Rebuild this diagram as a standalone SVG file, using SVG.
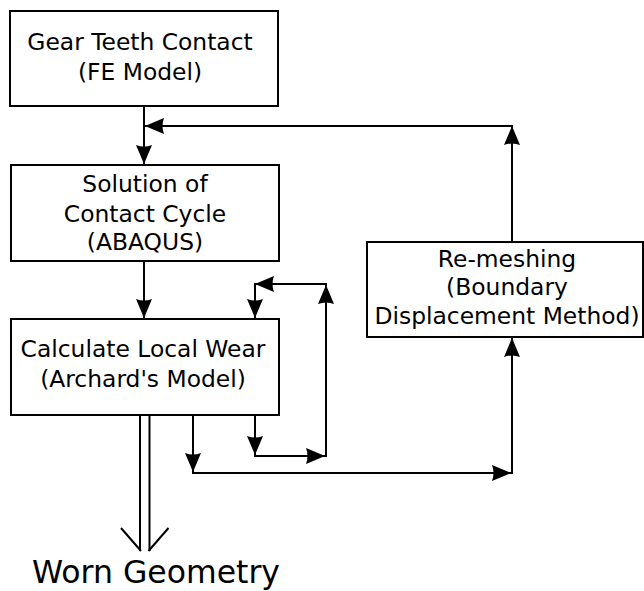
<svg xmlns="http://www.w3.org/2000/svg" width="644" height="591" viewBox="0 0 644 591">
  <style>
    .box { fill: #ffffff; stroke: #000000; stroke-width: 2; }
    .label { font-family: "DejaVu Sans", "Liberation Sans", sans-serif; font-size: 23.4px; fill: #000000; text-anchor: middle; }
    .big { font-size: 31.5px; }
    .wire { fill: none; stroke: #000000; stroke-width: 2; }
    .arrow { marker-end: url(#head); }
  </style>
  <defs>
    <marker id="head" markerUnits="userSpaceOnUse" viewBox="-20 -9 21 18" refX="0" refY="0" markerWidth="21" markerHeight="18" orient="auto">
      <path d="M0,0 L-19,-8 Q-16,0 -19,8 Z" fill="#000000"/>
    </marker>
  </defs>

  <rect width="644" height="591" fill="#ffffff"/>

  <!-- process steps -->
  <g id="fe-model">
    <rect class="box" x="10" y="11" width="268" height="95"/>
    <text class="label" x="140" y="49.5">Gear Teeth Contact</text>
    <text class="label" x="140" y="79.5">(FE Model)</text>
  </g>

  <g id="contact-cycle">
    <rect class="box" x="11" y="165" width="268" height="96"/>
    <text class="label" x="145" y="192">Solution of</text>
    <text class="label" x="145" y="221.5">Contact Cycle</text>
    <text class="label" x="145" y="250">(ABAQUS)</text>
  </g>

  <g id="local-wear">
    <rect class="box" x="11" y="319" width="268" height="96"/>
    <text class="label" x="143" y="357">Calculate Local Wear</text>
    <text class="label" x="143" y="387">(Archard's Model)</text>
  </g>

  <g id="re-meshing">
    <rect class="box" x="367" y="242" width="276" height="95"/>
    <text class="label" x="507" y="266.5">Re-meshing</text>
    <text class="label" x="507" y="295">(Boundary</text>
    <text class="label" x="507" y="324">Displacement Method)</text>
  </g>

  <g id="worn-geometry">
    <text class="label big" x="156" y="583">Worn Geometry</text>
  </g>

  <!-- connectors -->
  <g id="connectors">
    <!-- main flow -->
    <line class="wire arrow" x1="144" y1="106" x2="144" y2="164"/>
    <line class="wire arrow" x1="144" y1="261" x2="144" y2="318"/>

    <!-- feedback from re-meshing to the FE model -->
    <line class="wire arrow" x1="512" y1="242" x2="512" y2="126"/>
    <line class="wire arrow" x1="513" y1="126" x2="145" y2="126"/>

    <!-- wear to re-meshing -->
    <line class="wire arrow" x1="193" y1="415" x2="193" y2="472"/>
    <line class="wire arrow" x1="192" y1="473" x2="511" y2="473"/>
    <line class="wire arrow" x1="512" y1="474" x2="512" y2="338"/>

    <!-- local wear iteration loop -->
    <line class="wire arrow" x1="255" y1="415" x2="255" y2="455"/>
    <line class="wire arrow" x1="254" y1="456" x2="325" y2="456"/>
    <line class="wire arrow" x1="326" y1="457" x2="326" y2="285"/>
    <line class="wire arrow" x1="327" y1="284" x2="255" y2="284"/>
    <line class="wire arrow" x1="255" y1="283" x2="255" y2="318"/>

    <!-- output double arrow -->
    <line class="wire" x1="140" y1="415" x2="140" y2="551"/>
    <line class="wire" x1="149.5" y1="415" x2="149.5" y2="551"/>
    <line class="wire" x1="121" y1="528" x2="141" y2="551"/>
    <line class="wire" x1="168.5" y1="528" x2="148.5" y2="551"/>
  </g>
</svg>
